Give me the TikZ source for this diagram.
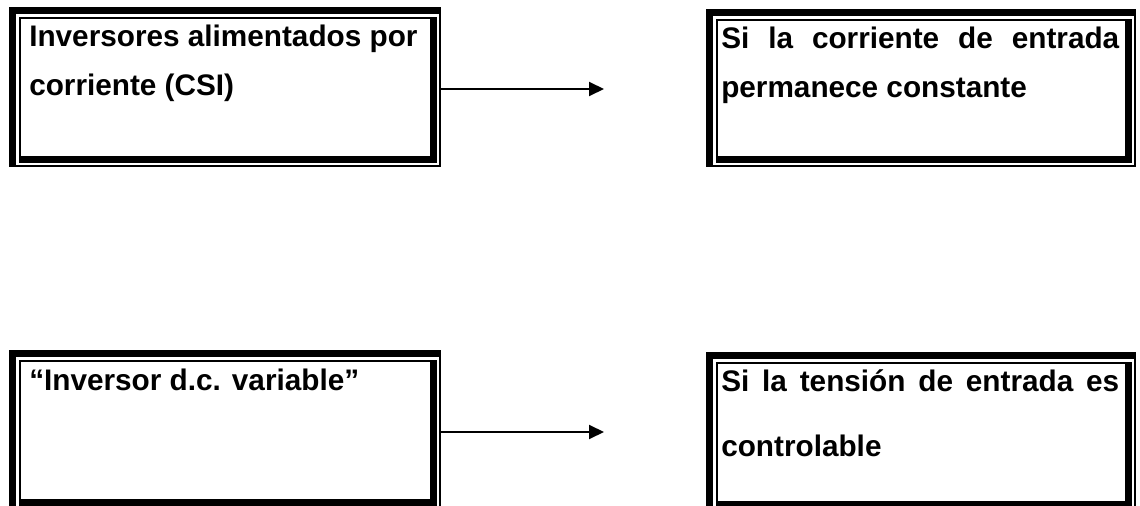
\documentclass[tikz,border=0pt]{standalone}
\usepackage{fontspec}
\setmainfont{Liberation Sans}
\usetikzlibrary{arrows.meta,fit}
\tikzset{
  lbl/.style={anchor=base west, inner sep=0pt, font=\fontsize{22.3}{27}\selectfont\bfseries},
  framebox/.style={inner sep=0pt, outer sep=0pt, draw=none},
  band/.style={fill=black},
  arr/.style={line width=1.5pt, -{Triangle[length=11.25pt,width=10.5pt]}},
}
% name, L, T, R, B  (px, y downwards)
\newcommand\dframe[5]{%
  \node[framebox, fit={(#2,#3) (#4,#5)}] (#1) {};
  \fill[band] (#2,#3) rectangle (#4,{#3+7});
  \fill[band] (#2,#3) rectangle ({#2+7},#5);
  \fill[band] ({#4-2},#3) rectangle (#4,#5);
  \fill[band] (#2,{#5-2}) rectangle (#4,#5);
  \fill[band] ({#2+10},{#3+10}) rectangle ({#4-4},{#3+12});
  \fill[band] ({#2+10},{#3+10}) rectangle ({#2+12},{#5-4});
  \fill[band] ({#4-11},{#3+10}) rectangle ({#4-4},{#5-4});
  \fill[band] ({#2+10},{#5-11}) rectangle ({#4-4},{#5-4});
}
\begin{document}
\begin{tikzpicture}[x=0.75pt,y=-0.75pt]
  \useasboundingbox (0,0) rectangle (1140,506);
  \clip (0,0) rectangle (1140,506);
  \dframe{b1}{9}{7}{441}{167}
  \dframe{b2}{706}{9}{1136}{167}
  \dframe{b3}{9}{350}{441}{510}
  \dframe{b4}{706}{352}{1136}{512}
  % texts
  \node[lbl] (t1a) at (29,47) {Inversores alimentados por};
  \node[lbl] (t1b) at (29,96) {corriente (CSI)};
  \node[lbl] (t2a) at (721,49) {\makebox[298.5pt][s]{Si la corriente de entrada}};
  \node[lbl] (t2b) at (721,98) {permanece constante};
  \node[lbl] (t3a) at (29,390) {“Inversor d.c. variable”};
  \node[lbl] (t4a) at (721,392) {\makebox[298.5pt][s]{Si la tensión de entrada es}};
  \node[lbl] (t4b) at (721,456) {controlable};
  % arrows
  \coordinate (e1) at (604,89);
  \coordinate (e2) at (604,432);
  \draw[arr] (b1.east |- e1) -- (e1);
  \draw[arr] (b3.east |- e2) -- (e2);
\end{tikzpicture}
\end{document}
